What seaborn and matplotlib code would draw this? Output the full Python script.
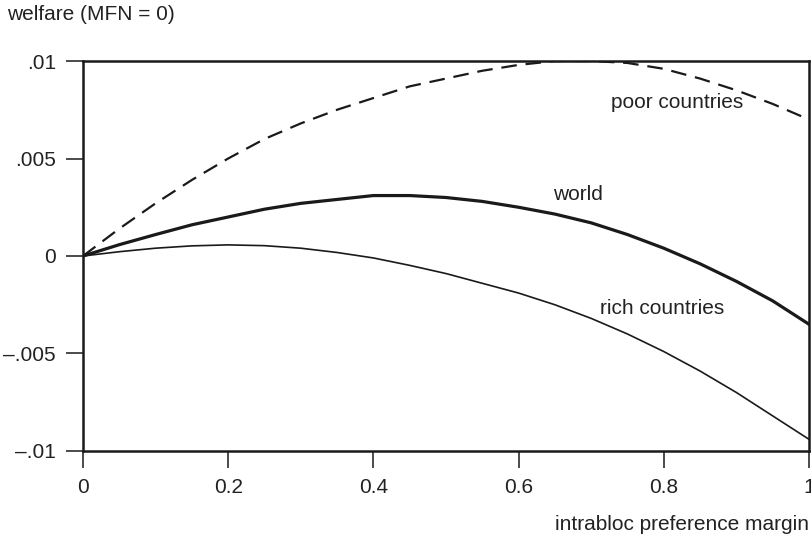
import numpy as np
import pandas as pd
import matplotlib
matplotlib.use("Agg")
import matplotlib.pyplot as plt
import seaborn as sns

# intrabloc preference margin
margin = [0.00, 0.05, 0.10, 0.15, 0.20, 0.25, 0.30, 0.35, 0.40, 0.45, 0.50,
          0.55, 0.60, 0.65, 0.70, 0.75, 0.80, 0.85, 0.90, 0.95, 1.00]

# welfare relative to MFN
poor = [0.0, 0.0014, 0.0027, 0.0039, 0.0050, 0.0060, 0.0068, 0.0075, 0.0081, 0.0087, 0.0091,
        0.0095, 0.0098, 0.0100, 0.0100, 0.0099, 0.0096, 0.0091, 0.0085, 0.0078, 0.0070]
world = [0.0, 0.00058, 0.0011, 0.0016, 0.0020, 0.0024, 0.0027, 0.0029, 0.0031, 0.0031, 0.0030,
         0.0028, 0.0025, 0.00215, 0.0017, 0.0011, 0.0004, -0.0004, -0.0013, -0.0023, -0.0035]
rich = [0.0, 0.00022, 0.0004, 0.00052, 0.00057, 0.00053, 0.0004, 0.00018, -0.0001, -0.00048, -0.0009,
        -0.0014, -0.0019, -0.0025, -0.0032, -0.0040, -0.0049, -0.0059, -0.0070, -0.0082, -0.0094]

x_ticks = [0, 0.2, 0.4, 0.6, 0.8, 1]
x_tick_labels = ["0", "0.2", "0.4", "0.6", "0.8", "1"]
y_ticks = [-0.01, -0.005, 0, 0.005, 0.01]
y_tick_labels = ["\u2013.01", "\u2013.005", "0", ".005", ".01"]

sns.set_style("ticks")
plt.rcParams["font.family"] = ["Liberation Sans", "DejaVu Sans"]
plt.rcParams["font.size"] = 15

fig = plt.figure(figsize=(8.11, 5.39), dpi=100)
ax = fig.add_axes([0.1023, 0.1633, 0.8952, 0.7235])

df = pd.DataFrame({"margin": margin, "poor": poor, "world": world, "rich": rich})

sns.lineplot(data=df, x="margin", y="poor", ax=ax, color="#1a1a1a", linewidth=1.6,
             linestyle=(0, (7, 4)))
sns.lineplot(data=df, x="margin", y="world", ax=ax, color="#1a1a1a", linewidth=2.3)
sns.lineplot(data=df, x="margin", y="rich", ax=ax, color="#1a1a1a", linewidth=1.2)

ax.set_xlim(0, 1)
ax.set_ylim(-0.01, 0.01)
ax.set_xticks(x_ticks)
ax.set_xticklabels(x_tick_labels)
ax.set_yticks(y_ticks)
ax.set_yticklabels(y_tick_labels)

for side in ["left", "right", "top", "bottom"]:
    ax.spines[side].set_visible(True)
    ax.spines[side].set_linewidth(1.8)
    ax.spines[side].set_color("#1a1a1a")

ax.tick_params(axis="both", direction="out", length=12.5, width=1.1, color="#1a1a1a",
               labelsize=15, labelcolor="#222222", pad=7)

ax.set_xlabel("intrabloc preference margin", fontsize=15, color="#222222")
ax.xaxis.set_label_coords(1.0, -0.165)
ax.xaxis.label.set_horizontalalignment("right")
ax.set_ylabel("")

fig.text(7 / 811, 1 - 15 / 539, "welfare (MFN = 0)", ha="left", va="center",
         fontsize=15, color="#222222")

ax.text(0.818, 0.00785, "poor countries", ha="center", va="center", fontsize=15, color="#222222")
ax.text(0.682, 0.00313, "world", ha="center", va="center", fontsize=15, color="#222222")
ax.text(0.798, -0.00267, "rich countries", ha="center", va="center", fontsize=15, color="#222222")

fig.savefig("out.png", dpi=100)
